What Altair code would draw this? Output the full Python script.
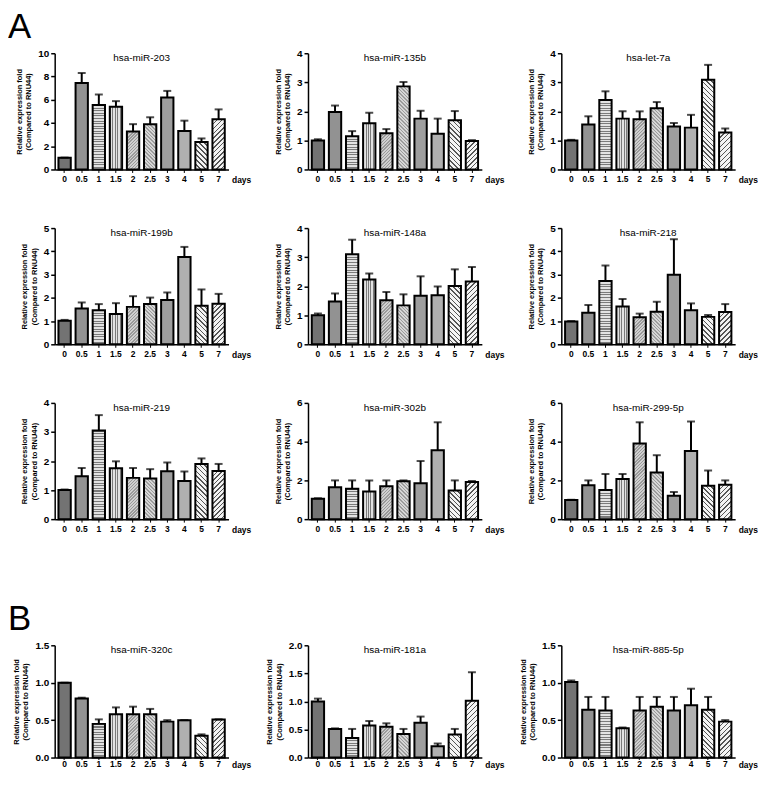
import math
import altair as alt
import pandas as pd

days = ["0", "0.5", "1", "1.5", "2", "2.5", "3", "4", "5", "7"]

names = ["hsa-miR-203", "hsa-miR-135b", "hsa-let-7a",
         "hsa-miR-199b", "hsa-miR-148a", "hsa-miR-218",
         "hsa-miR-219", "hsa-miR-302b", "hsa-miR-299-5p",
         "hsa-miR-320c", "hsa-miR-181a", "hsa-miR-885-5p"]

means = [
    [1.0, 7.44, 5.54, 5.4, 3.27, 3.9, 6.2, 3.32, 2.36, 4.32],
    [1.0, 1.98, 1.14, 1.59, 1.25, 2.86, 1.75, 1.23, 1.69, 0.98],
    [1.0, 1.55, 2.39, 1.75, 1.73, 2.11, 1.48, 1.44, 3.09, 1.27],
    [1.01, 1.54, 1.47, 1.3, 1.61, 1.73, 1.91, 3.76, 1.66, 1.74],
    [1.0, 1.47, 3.1, 2.23, 1.52, 1.34, 1.67, 1.69, 2.01, 2.16],
    [0.98, 1.36, 2.72, 1.63, 1.16, 1.4, 2.99, 1.47, 1.18, 1.39],
    [1.0, 1.48, 3.05, 1.75, 1.42, 1.4, 1.65, 1.31, 1.9, 1.66],
    [1.05, 1.65, 1.57, 1.43, 1.7, 1.96, 1.85, 3.56, 1.48, 1.92],
    [0.99, 1.75, 1.5, 2.07, 3.9, 2.41, 1.21, 3.52, 1.72, 1.77],
    [1.0, 0.79, 0.45, 0.58, 0.58, 0.58, 0.48, 0.5, 0.29, 0.51],
    [1.0, 0.51, 0.35, 0.57, 0.55, 0.42, 0.62, 0.2, 0.41, 1.01],
    [1.01, 0.64, 0.63, 0.39, 0.63, 0.68, 0.63, 0.7, 0.64, 0.48],
]

uppers = [
    [1.02, 8.3, 6.45, 5.88, 3.9, 4.49, 6.76, 4.2, 2.67, 5.17],
    [1.04, 2.2, 1.32, 1.95, 1.39, 3.01, 2.02, 1.75, 2.01, 1.01],
    [1.02, 1.83, 2.69, 2.0, 2.0, 2.32, 1.6, 1.88, 3.6, 1.41],
    [1.05, 1.8, 1.73, 1.77, 2.07, 2.01, 2.23, 4.19, 2.36, 2.17],
    [1.06, 1.75, 3.6, 2.44, 1.8, 1.72, 2.34, 1.99, 2.58, 2.66],
    [1.0, 1.69, 3.39, 1.95, 1.32, 1.83, 4.52, 1.76, 1.26, 1.73],
    [1.02, 1.76, 3.58, 1.99, 1.76, 1.72, 1.95, 1.64, 2.09, 1.9],
    [1.08, 2.0, 2.0, 2.0, 2.0, 2.0, 3.0, 5.0, 2.0, 1.97],
    [1.0, 2.0, 2.33, 2.33, 5.0, 3.3, 1.4, 5.04, 2.51, 2.0],
    [1.0, 0.8, 0.51, 0.67, 0.68, 0.65, 0.5, 0.5, 0.31, 0.51],
    [1.05, 0.52, 0.51, 0.65, 0.61, 0.51, 0.73, 0.25, 0.51, 1.52],
    [1.03, 0.81, 0.81, 0.4, 0.81, 0.81, 0.81, 0.92, 0.81, 0.5],
]

y_max = [10, 4, 4, 5, 4, 5, 4, 6, 6, 1.5, 2.0, 1.5]
y_ticks = [
    [0, 2, 4, 6, 8, 10], [0, 1, 2, 3, 4], [0, 1, 2, 3, 4],
    [0, 1, 2, 3, 4, 5], [0, 1, 2, 3, 4], [0, 1, 2, 3, 4, 5],
    [0, 1, 2, 3, 4], [0, 2, 4, 6], [0, 2, 4, 6],
    [0, 0.5, 1.0, 1.5], [0, 0.5, 1.0, 1.5, 2.0], [0, 0.5, 1.0, 1.5],
]
y_formats = ["d"] * 9 + [".1f"] * 3
letters = {0: "A", 9: "B"}

# fill style of each day's bar: solid grey or striped pattern
solid = {"0": "#737373", "0.5": "#929292", "3": "#9e9e9e", "4": "#b0b0b0"}
stripes = {  # kind, dark, light, period(px), dark fraction
    "1": ("h", "#7a7a7a", "#e2e2e2", 2.6, 0.4),
    "1.5": ("v", "#7a7a7a", "#e2e2e2", 2.6, 0.4),
    "2": ("/", "#9a9a9a", "#d0d0d0", 2.3, 0.45),
    "2.5": ("\\", "#9c9c9c", "#d6d6d6", 2.5, 0.42),
    "5": ("\\", "#555555", "#f4f4f4", 3.4, 0.3),
    "7": ("/", "#555555", "#f4f4f4", 3.4, 0.3),
}

W = 175
FONT = "Liberation Sans"
PAD_IN, PAD_OUT = 0.28, 0.22
BAND = W / (len(days) - PAD_IN + 2 * PAD_OUT) * (1 - PAD_IN)


def stops_for(n, dark, light, frac):
    n = max(1, int(round(n)))
    st = []
    for k in range(n):
        a = k / n
        b = (k + frac) / n
        c = (k + 1) / n
        st += [{"offset": round(a, 5), "color": dark},
               {"offset": round(b, 5), "color": dark},
               {"offset": round(b, 5), "color": light},
               {"offset": round(c, 5), "color": light}]
    return st


def gradient(kind, dark, light, period, frac, w, h):
    if kind == "h":
        g = dict(x1=0, y1=0, x2=0, y2=1)
        n = h / period
    elif kind == "v":
        g = dict(x1=0, y1=0, x2=1, y2=0)
        n = w / period
    else:
        a = (w + h) / (w * w + h * h)
        n = (w + h) / (period * math.sqrt(2))
        if kind == "/":
            g = dict(x1=0, y1=0, x2=a * w, y2=a * h)
        else:
            g = dict(x1=0, y1=1, x2=a * w, y2=1 - a * h)
    g = {k: round(v, 5) for k, v in g.items()}
    return {"gradient": "linear", **g, "stops": stops_for(n, dark, light, frac)}


def panel(i, h, bottom=False):
    df = pd.DataFrame({"day": days, "value": means[i], "upper": uppers[i]})
    x = alt.X("day:N", sort=days,
              scale=alt.Scale(paddingInner=PAD_IN, paddingOuter=PAD_OUT),
              axis=alt.Axis(title="days", labelAngle=0, labelFontWeight="bold",
                            labelFontSize=8.5, labelFont=FONT, labelColor="black",
                            titleX=W + 3, titleY=7 if bottom else 10,
                            titleAlign="left",
                            titleBaseline="middle", titleFont=FONT,
                            titleFontSize=8.5, titleFontWeight="bold",
                            titleColor="black",
                            tickSize=2 if bottom else 3, tickColor="black",
                            domainColor="black", domainWidth=1.5,
                            labelPadding=0 if bottom else 2))
    yscale = alt.Scale(domain=[0, y_max[i]], nice=False)
    yaxis = alt.Axis(title=["Relative expression fold", "(Compared to RNU44)"],
                     values=y_ticks[i], format=y_formats[i],
                     tickCount=len(y_ticks[i]),
                     labelOverlap=False, labelFlush=False,
                     labelFontWeight="bold", labelFontSize=10,
                     labelFont=FONT, labelColor="black",
                     titleFont=FONT, titleFontSize=7.5,
                     titleFontWeight="bold", titleColor="black",
                     titlePadding=5, tickSize=4, tickColor="black",
                     tickWidth=1.5, domainColor="black", domainWidth=1.5,
                     labelPadding=2, grid=False)
    y = alt.Y("value:Q", scale=yscale, axis=yaxis)
    yu = alt.Y("upper:Q", scale=yscale, axis=yaxis)

    conds = []
    for d, v in zip(days, means[i]):
        bar_h = v / y_max[i] * h
        if d in stripes:
            val = gradient(*stripes[d], BAND, bar_h)
        else:
            val = solid[d]
        conds.append({"test": f"datum.day === '{d}'", "value": val})
    fill = alt.FillValue("#999999", condition=conds)

    base = alt.Chart(df)
    rule = base.mark_rule(color="black", strokeWidth=2).encode(
        x=x, y=yu, y2="value:Q")
    bars = base.mark_bar(stroke="black", strokeWidth=2).encode(
        x=x, y=y, fill=fill)
    caps = base.mark_tick(color="black", thickness=2, size=8).encode(
        x=x, y=yu)
    title = alt.Chart(pd.DataFrame({"t": [names[i]]})).mark_text(
        font=FONT, fontSize=10, color="black", baseline="middle").encode(
        x=alt.value(W / 2), y=alt.value(5), text="t:N")
    layers = [rule, bars, caps, title]
    if i in letters:
        layers.append(alt.Chart(pd.DataFrame({"t": [letters[i]]})).mark_text(
            font=FONT, fontSize=35, color="black", baseline="top", align="left"
        ).encode(x=alt.value(-47), y=alt.value(-43), text="t:N"))
    return alt.layer(*layers).properties(width=W, height=h)


def spacer():
    return alt.Chart(pd.DataFrame({"a": [0]})).mark_point(
        opacity=0, size=1).encode(x=alt.value(0), y=alt.value(0)).properties(
        width=W, height=8.5)


cells = [panel(i, 117) for i in range(9)]
cells += [spacer() for _ in range(3)]
cells += [panel(i, 113, bottom=True) for i in range(9, 12)]

chart = alt.concat(
    *cells, columns=3, spacing={"row": 59, "column": 80}, bounds="flush"
).properties(
    padding={"left": 0, "top": 0, "right": 0, "bottom": 0}
).configure_view(stroke=None)

chart.save("out.html", embed_options={"renderer": "svg", "actions": False})
